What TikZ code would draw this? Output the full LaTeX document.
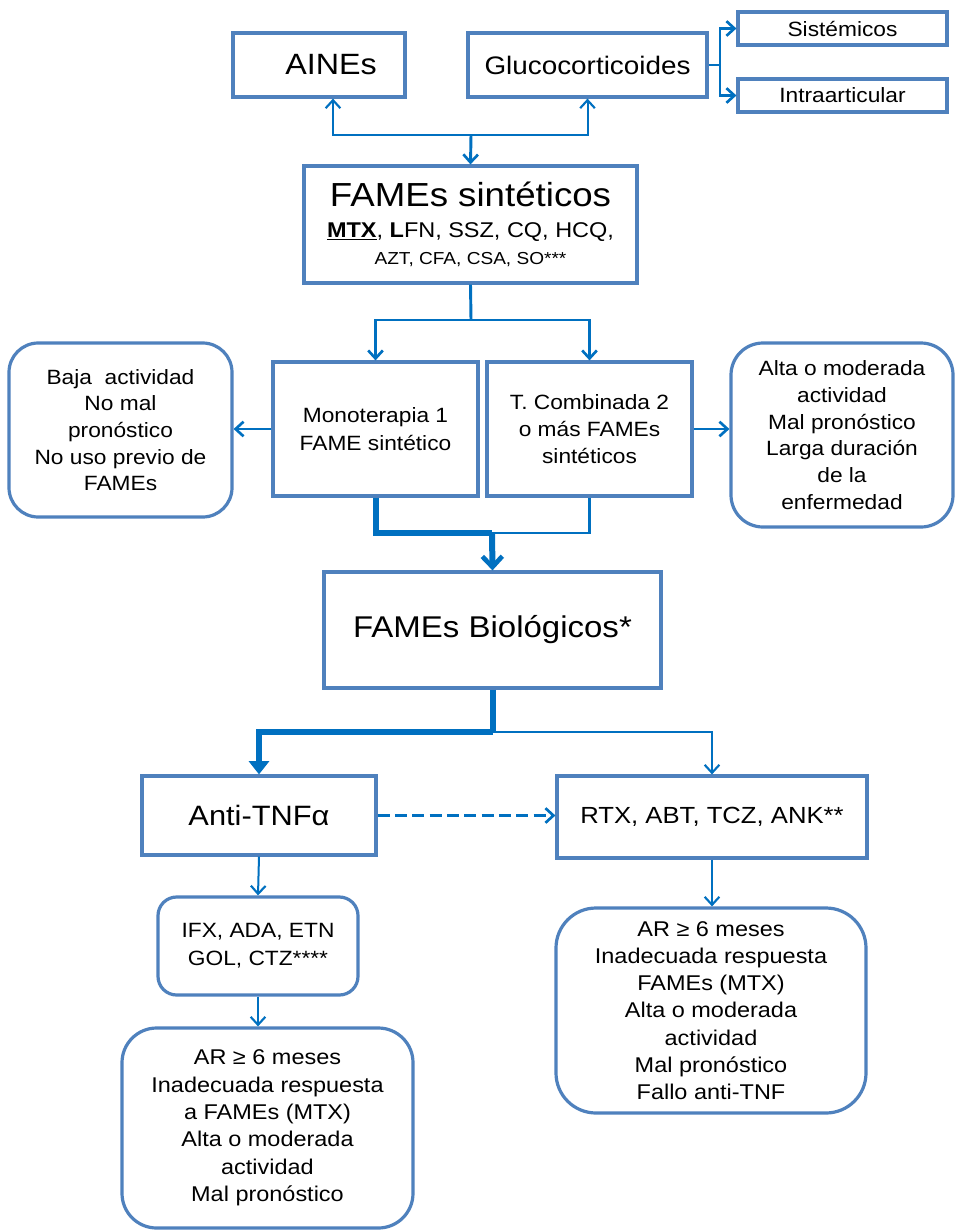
\documentclass[tikz,border=0pt]{standalone}
\usepackage{fontspec}
\setmainfont{Liberation Sans}[FakeStretch=1.1]
\usetikzlibrary{arrows.meta,calc}
\definecolor{boxc}{HTML}{4F81BD}
\definecolor{linec}{HTML}{0070C0}
\begin{document}
\begin{tikzpicture}[x=0.75pt,y=-0.75pt,
  box/.style={draw=boxc, line width=2.4pt, inner sep=0pt, align=center, text=black},
  rbox/.style={box, rounded corners=#1},
  rect/.style n args={4}{at={({(#1+#3)/2},{(#2+#4)/2})},
     minimum width={(#3-#1)*0.75pt}, minimum height={(#4-#2)*0.75pt}},
  cline/.style={draw=linec, line width=2.2pt},
  tline/.style={draw=linec, line width=1.5pt},
  kline/.style={draw=linec, line width=4.5pt},
  conn/.style={cline, -{Straight Barb[length=6pt,width=11pt,line width=2pt]}},
  tconn/.style={tline, -{Straight Barb[length=6pt,width=11pt,line width=1.6pt]}},
  kconn/.style={kline, -{Straight Barb[length=8pt,width=15pt,line width=3.5pt]}},
  kconnT/.style={kline, -{Triangle[length=10pt,width=15pt]}},
]
\fill[white] (0,0) rectangle (961,1231);
\useasboundingbox (0,0) rectangle (961,1231);

% top row
\node[box, rect={233}{33}{405}{97}, font=\fontsize{22}{26}\selectfont] (aines) {\hspace*{18pt}AINEs};
\node[box, rect={468}{33}{707}{97}, font=\fontsize{19}{23}\selectfont] (gluco) {Glucocorticoides};
\node[box, rect={738}{12}{947}{45}, font=\fontsize{15.5}{18}\selectfont] (sist) {Sistémicos};
\node[box, rect={738}{79}{947}{112}, font=\fontsize{15.5}{18}\selectfont] (intra) {Intraarticular};

% FAMEs sinteticos
\node[box, rect={304}{166}{637}{283}, font=\fontsize{13}{20}\selectfont] (fsint)
  {{\fontsize{25}{28}\selectfont FAMEs sintéticos}\\[3pt]
   {\fontsize{16}{19}\selectfont \underline{\textbf{MTX}}, \textbf{L}FN, SSZ, CQ, HCQ,}\\
   {\fontsize{13}{15}\selectfont AZT, CFA, CSA, SO***}};

% second level
\node[box, rect={273}{362}{478}{496}, font=\fontsize{15.5}{21}\selectfont] (mono) {Monoterapia 1\\FAME sintético};
\node[box, rect={487}{362}{692}{496}, font=\fontsize{15.5}{20}\selectfont] (comb) {T. Combinada 2\\o más FAMEs\\sintéticos};
\node[rbox=22pt, rect={9}{343}{232}{517}, font=\fontsize{15.5}{20}\selectfont] (baja)
  {Baja\ \ actividad\\No mal\\pronóstico\\No uso previo de\\FAMEs};
\node[rbox=24pt, rect={731}{343}{953}{527}, font=\fontsize{15.5}{20}\selectfont] (alta)
  {Alta o moderada\\actividad\\Mal pronóstico\\Larga duración\\de la\\enfermedad};

% biologicos
\node[box, rect={324}{572}{661}{688}, font=\fontsize{22.5}{26}\selectfont] (bio) {FAMEs Biológicos*};

\node[box, rect={142}{776}{376}{855}, font=\fontsize{21}{24}\selectfont] (anti) {Anti-TNFα};
\node[box, rect={557}{776}{867}{858}, font=\fontsize{17.5}{21}\selectfont] (rtx) {RTX, ABT, TCZ, ANK**};

\node[rbox=14pt, rect={158}{897}{358}{995}, font=\fontsize{15.5}{21}\selectfont] (ifx) {IFX, ADA, ETN\\GOL, CTZ****};
\node[rbox=26pt, rect={122}{1028}{413}{1228}, font=\fontsize{16}{20.5}\selectfont] (bl)
  {AR ≥ 6 meses\\Inadecuada respuesta\\a FAMEs (MTX)\\Alta o moderada\\actividad\\Mal pronóstico};
\node[rbox=30pt, rect={556}{908}{866}{1113}, font=\fontsize{16}{20.4}\selectfont] (br)
  {AR ≥ 6 meses\\Inadecuada respuesta\\FAMEs (MTX)\\Alta o moderada\\actividad\\Mal pronóstico\\Fallo anti-TNF};

% junctions
\coordinate (j1) at (471,135);
\coordinate (gj) at (720,65);
\coordinate (j2) at (471,320);
\coordinate (j3) at (492,533);
\coordinate (j4) at (492.5,732);

% connectors top
\draw[tconn] (j1) -| ([xshift=10.5pt]aines.south);
\draw[tconn] (j1) -| (gluco.south);
\draw[conn] (j1) -- (fsint.north);
\draw[cline] (gluco.east) -- (gj);
\draw[conn] (gj) |- (sist.west);
\draw[conn] (gj) |- (intra.west);

% fsint down
\draw[cline] (fsint.south) -- (j2);
\draw[conn] (j2) -| (mono.north);
\draw[conn] (j2) -| (comb.north);
\draw[conn] (mono.west) -- (mono.west -| baja.east);
\draw[conn] (comb.east) -- (comb.east -| alta.west);

% to biologicos
\draw[cline] (comb.south) |- (j3);
\draw[kline] (mono.south) |- (j3);
\draw[kconn] (j3) -- (bio.north);

% biologicos down
\draw[kline] (bio.south) -- (j4);
\draw[kconnT] (j4) -| (anti.north);
\draw[tconn] (j4) -| (rtx.north);
\draw[conn, dash pattern=on 9pt off 4pt] (anti.east) -- (anti.east -| rtx.west);

\draw[tconn] (anti.south) -- (ifx.north);
\draw[tconn] (ifx.south) -- (ifx.south |- bl.north);
\draw[tconn] (rtx.south) -- (rtx.south |- br.north);
\end{tikzpicture}
\end{document}
